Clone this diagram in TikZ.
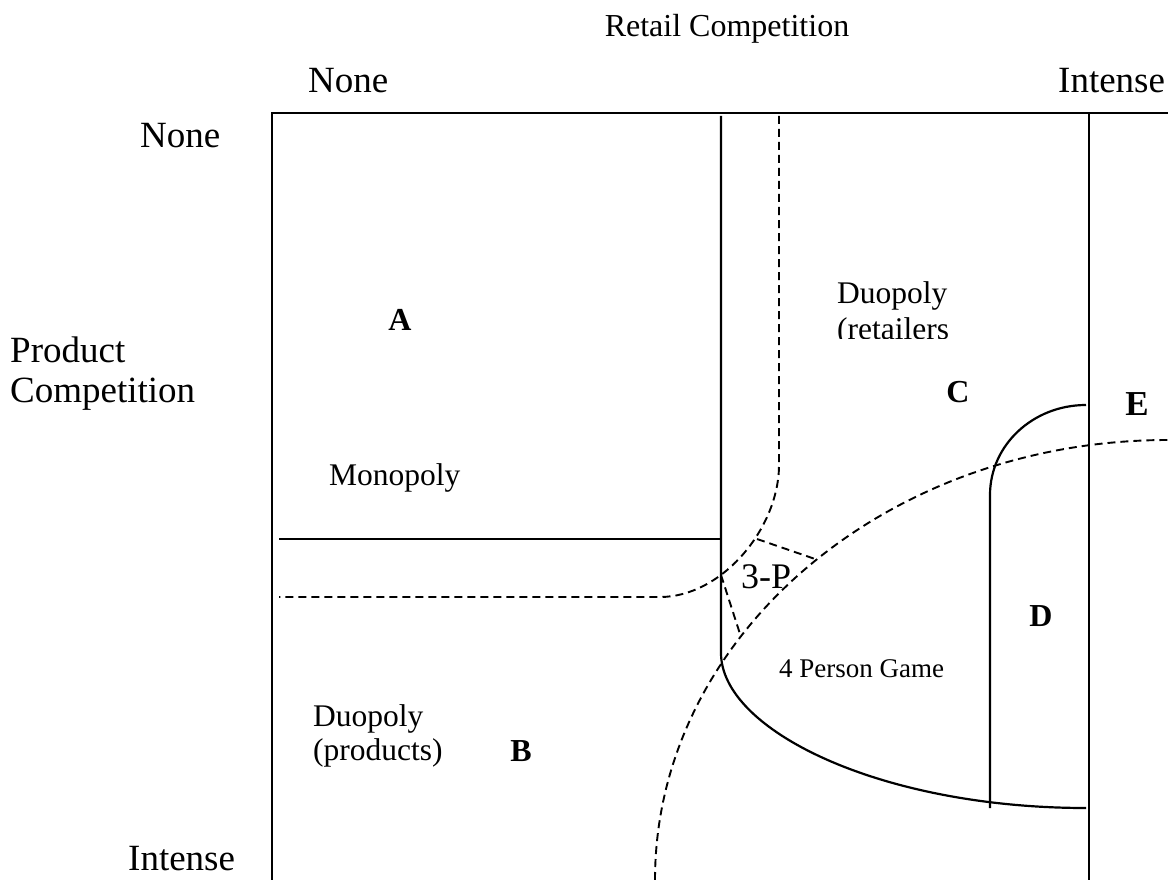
\documentclass[tikz,border=0pt]{standalone}
\usepackage{fontspec}
\setmainfont{Liberation Serif}
\begin{document}
\begin{tikzpicture}[x=1pt,y=-1pt,
  solidln/.style={line width=2.2pt},
  dashln/.style={line width=1.9pt, dash pattern=on 8pt off 5pt},
  axislbl/.style={inner sep=0pt, font=\fontsize{37}{44}\selectfont},
  lbl/.style={inner sep=0pt, font=\fontsize{31.5}{38}\selectfont},
  letter/.style={inner sep=0pt, font=\fontsize{32}{38}\selectfont\bfseries}]
\useasboundingbox (0,0) rectangle (1168,880);
% frame
\draw[solidln] (1168,113) -- (272,113) -- (272,880);
\draw[solidln] (1089,113) -- (1089,880);
% inner solid vertical with curve
\draw[solidln] (721,116) -- (721,653) .. controls (721,730) and (880,808) .. (1086,808);
% horizontal solid
\draw[solidln] (279,539) -- (721,539);
% L-shaped dashed
\draw[dashln] (779,116) -- (779,465) .. controls (779,528) and (722,597) .. (660,597) -- (279,597);
% big dashed ellipse
\draw[dashln] (655,880) .. controls (655,637) and (885,440) .. (1168,440);
% D shape
\draw[solidln] (990,808) -- (990,495) .. controls (990,445) and (1033,405) .. (1086,405);
% 3-P dashes
\draw[dashln] (757,539) -- (818,560);
\draw[dashln] (721,575) -- (741,637);
% texts
\node[inner sep=0pt, font=\fontsize{32}{38}\selectfont, anchor=base] (rc) at (727,37) {Retail Competition};
\node[axislbl, anchor=base west] (n1) at (308,93) {None};
\node[axislbl, anchor=base west] (i1) at (1058,93) {Intense};
\node[axislbl, anchor=base west] (n2) at (140,148) {None};
\node[axislbl, anchor=base west] (pc1) at (10,362) {Product};
\node[axislbl, anchor=base west] (pc2) at (10,402) {Competition};
\node[axislbl, anchor=base west] (i2) at (128,870) {Intense};
\node[letter] (A) at (400,320) {A};
\node[lbl, anchor=base west] (du1) at (837,303) {Duopoly};
\begin{scope}
\clip (800,300) rectangle (1000,338);
\node[lbl, anchor=base west] (du2) at (837,339) {(retailers};
\end{scope}
\node[letter] (C) at (958,392) {C};
\node[letter, font=\fontsize{35}{40}\selectfont\bfseries] (E) at (1137,404) {E};
\node[lbl, anchor=base west] (mono) at (329,485) {Monopoly};
\node[inner sep=0pt, font=\fontsize{36}{42}\selectfont, anchor=base west] (tp) at (741,588) {3-P};
\node[letter] (D) at (1041,616) {D};
\node[inner sep=0pt, font=\fontsize{27}{32}\selectfont, anchor=base west] (fp) at (779,677) {4 Person Game};
\node[lbl, anchor=base west] (dp1) at (313,726) {Duopoly};
\node[lbl, anchor=base west] (dp2) at (313,760) {(products)};
\node[letter] (B) at (521,751) {B};
\end{tikzpicture}
\end{document}
